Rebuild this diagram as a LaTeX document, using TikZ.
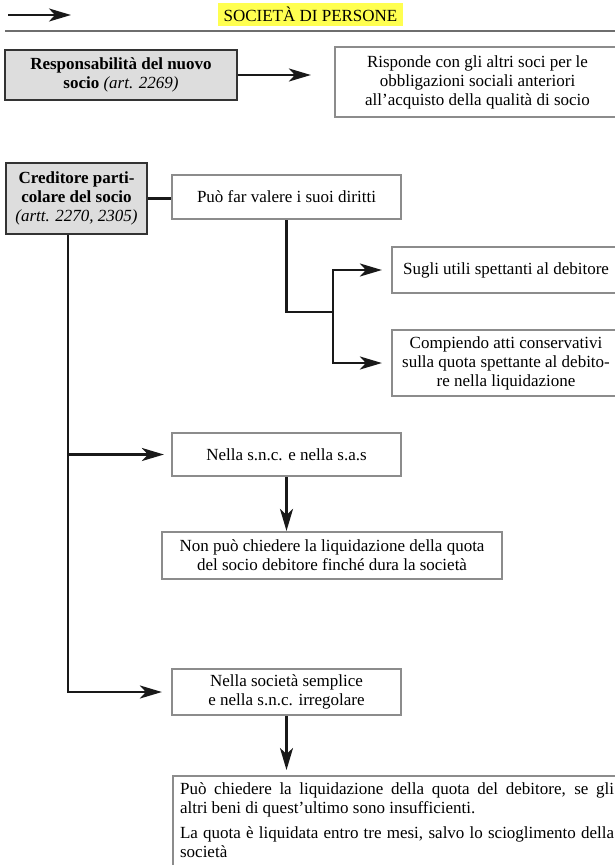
\documentclass[tikz,border=0pt]{standalone}
\usepackage{fontspec}
\setmainfont{Liberation Serif}
\usepackage{tikz}
\usetikzlibrary{arrows.meta}
\definecolor{ylw}{RGB}{255,255,80}
\definecolor{bgray}{RGB}{140,140,140}
\definecolor{fgray}{RGB}{221,221,221}
\definecolor{lgray}{RGB}{110,110,110}

\begin{document}
\begin{tikzpicture}[x=1pt,y=-1pt,
	every node/.style={font=\fontsize{17}{19}\selectfont,inner sep=0pt,align=center},
	gbox/.style={draw=black!80,line width=1.5pt,fill=fgray},
	wbox/.style={draw=bgray,line width=2.2pt,fill=white},
	ln/.style={line width=2.6pt,black!90},
	arr/.style={ln,-{Stealth[length=22pt,width=13pt,inset=6pt]}}]
	\useasboundingbox (0,0) rectangle (615,865);
	\coordinate (a) at (8,15);
	\coordinate (b) at (71,15);
	\draw[arr] (a) to (b);
	\node[fill=ylw,minimum width=185pt,minimum height=23pt] (0) at (310.5,14.5) {SOCIETÀ DI PERSONE};
	\draw[lgray,line width=1.8pt] (5,31) -- (615,31);
	\node[gbox,minimum width=232pt,minimum height=50pt] (1) at (121,75)
		{\textbf{Responsabilità del nuovo}\\\textbf{socio} \textit{(art. 2269)}};
	\node[wbox,minimum width=285pt,minimum height=70pt] (2) at (477.5,82)
		{Risponde con gli altri soci per le\\obbligazioni sociali anteriori\\all’acquisto della qualità di socio};
	\node[gbox,minimum width=141pt,minimum height=71pt] (3) at (76.5,198.5)
		{\textbf{Creditore parti-}\\\textbf{colare del socio}\\\textit{(artt. 2270, 2305)}};
	\node[wbox,minimum width=229pt,minimum height=44pt] (4) at (286.5,197) {Può far valere i suoi diritti};
	\node[wbox,minimum width=228pt,minimum height=46pt] (5) at (506,270) {Sugli utili spettanti al debitore};
	\node[wbox,minimum width=228pt,minimum height=66pt] (6) at (506,363)
		{Compiendo atti conservativi\\sulla quota spettante al debito-\\re nella liquidazione};
	\node[wbox,minimum width=229pt,minimum height=43pt] (7) at (286.5,454.5) {Nella s.n.c. e nella s.a.s};
	\node[wbox,minimum width=340pt,minimum height=47pt] (8) at (332,555.5)
		{Non può chiedere la liquidazione della quota\\del socio debitore finché dura la società};
	\node[wbox,minimum width=229pt,minimum height=46pt] (9) at (286.5,692)
		{Nella società semplice\\e nella s.n.c. irregolare};
	\node[wbox,anchor=north west,text width=434pt,inner sep=7pt,align=justify] (10) at (172,775)
		{Può chiedere la liquidazione della quota del debitore, se gli\linebreak altri beni di quest’ultimo sono insufficienti.\\[6pt]
		La quota è liquidata entro tre mesi, salvo lo scioglimento della società\\[10pt]\mbox{}};
	\coordinate (j) at (333,312);
	\draw[arr,shorten >=23pt] (1.east) to (1.east -| 2.west);
	\draw[ln] (3.east) to (3.east -| 4.west);
	\draw[ln] (4.south) |- (j);
	\draw[arr,shorten >=9pt] (j) |- (5.west);
	\draw[arr,shorten >=9pt] (j) |- (6.west);
	\draw[arr,shorten >=7pt] ([xshift=-8.5pt]3.south) |- (7.west);
	\draw[arr,shorten >=9pt] ([xshift=-8.5pt]3.south) |- (9.west);
	\draw[arr] (7.south) to (7.south |- 8.north);
	\draw[arr,shorten >=5pt] (9.south) to (9.south |- 10.north);
\end{tikzpicture}
\end{document}
